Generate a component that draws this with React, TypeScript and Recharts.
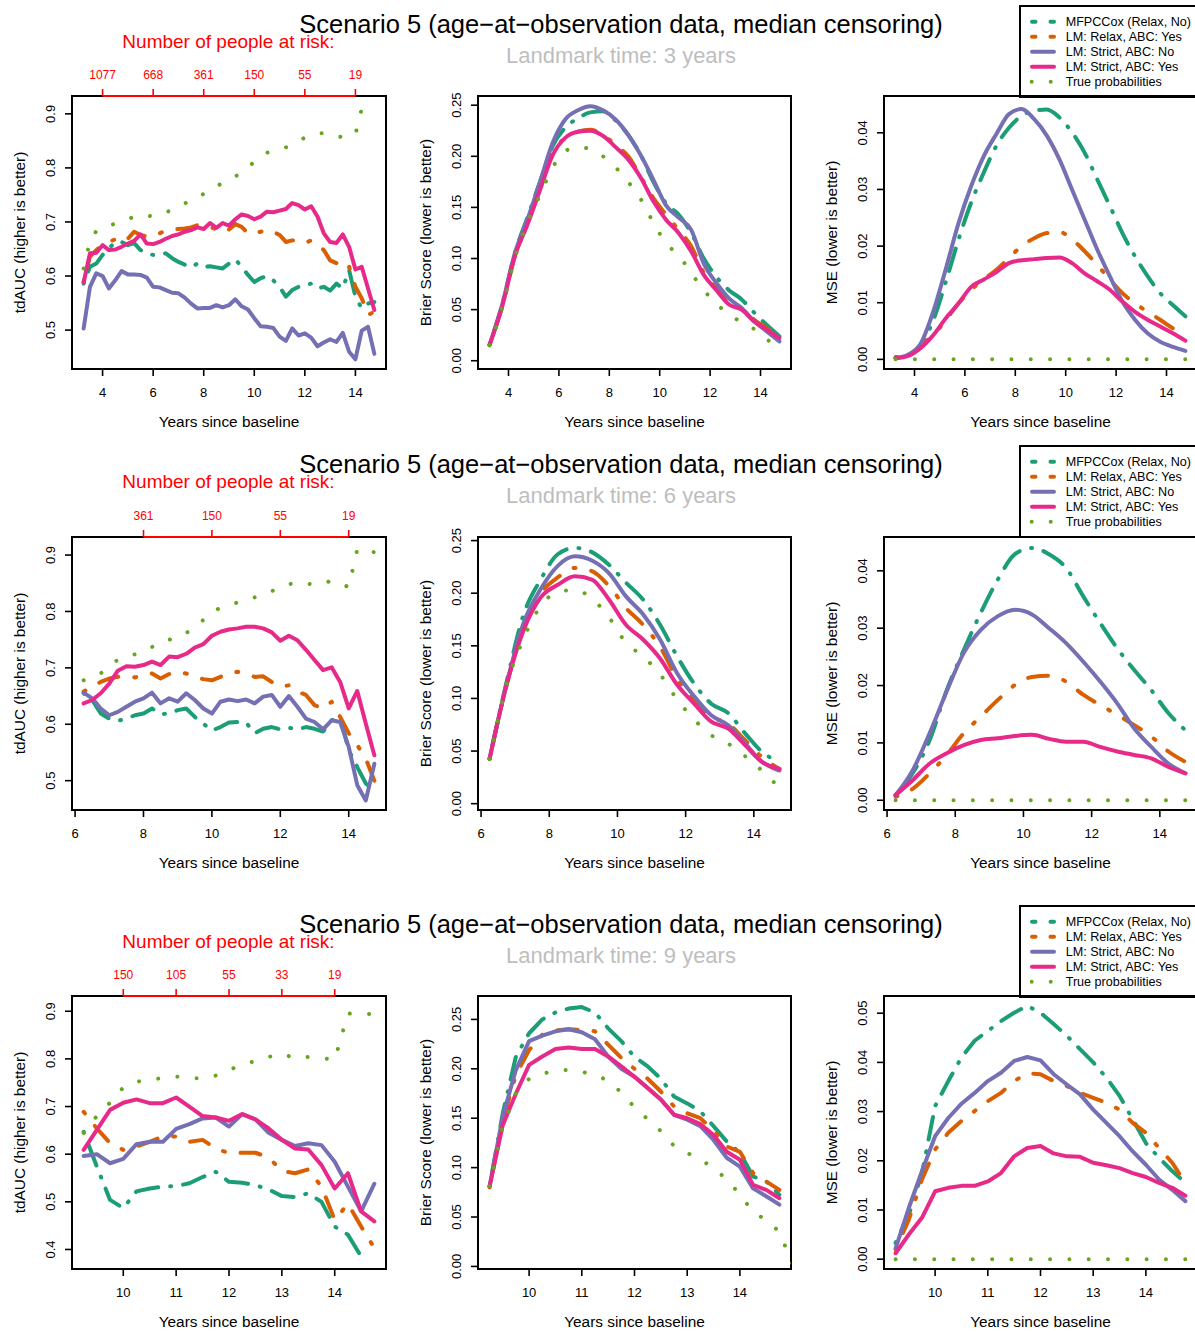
import React from 'react';
import { LineChart, Line, XAxis, YAxis, ReferenceArea, ReferenceLine } from 'recharts';

const FONT = '"Liberation Sans", Arial, Helvetica, sans-serif';

// ---- x grids ----
const xAuc3 = [3.25, 3.5, 3.75, 4, 4.25, 4.5, 4.75, 5, 5.25, 5.5, 5.75, 6, 6.25, 6.5, 6.75, 7, 7.25, 7.5, 7.75, 8, 8.25, 8.5, 8.75, 9, 9.25, 9.5, 9.75, 10, 10.25, 10.5, 10.75, 11, 11.25, 11.5, 11.75, 12, 12.25, 12.5, 12.75, 13, 13.25, 13.5, 13.75, 14, 14.25, 14.5, 14.75];
const xSmooth3 = [3.25, 3.75, 4.25, 4.75, 5.25, 5.75, 6.25, 6.75, 7.25, 7.75, 8.25, 8.75, 9.25, 9.75, 10.25, 10.75, 11.25, 11.75, 12.25, 12.75, 13.25, 13.75, 14.25, 14.75];
const xAuc6 = [6.25, 6.5, 6.75, 7, 7.25, 7.5, 7.75, 8, 8.25, 8.5, 8.75, 9, 9.25, 9.5, 9.75, 10, 10.25, 10.5, 10.75, 11, 11.25, 11.5, 11.75, 12, 12.25, 12.5, 12.75, 13, 13.25, 13.5, 13.75, 14, 14.25, 14.5, 14.75];
const xSmooth6 = [6.25, 6.75, 7.25, 7.75, 8.25, 8.75, 9.25, 9.75, 10.25, 10.75, 11.25, 11.75, 12.25, 12.75, 13.25, 13.75, 14.25, 14.75];
const x9 = [9.25, 9.5, 9.75, 10, 10.25, 10.5, 10.75, 11, 11.25, 11.5, 11.75, 12, 12.25, 12.5, 12.75, 13, 13.25, 13.5, 13.75, 14, 14.25, 14.5, 14.75];
const x9Brier = [9.25, 9.5, 9.75, 10, 10.25, 10.5, 10.75, 11, 11.25, 11.5, 11.75, 12, 12.25, 12.5, 12.75, 13, 13.25, 13.5, 13.75, 14, 14.25, 14.5, 14.75, 15];

// ---- landmark 3 ----
const auc3Mfpc = [0.586, 0.617, 0.623, 0.639, 0.651, 0.663, 0.663, 0.657, 0.661, 0.648, 0.642, 0.639, 0.641, 0.642, 0.633, 0.626, 0.621, 0.616, 0.623, 0.617, 0.618, 0.616, 0.614, 0.623, 0.631, 0.617, 0.602, 0.589, 0.596, 0.6, 0.592, 0.58, 0.562, 0.574, 0.58, 0.583, 0.586, 0.577, 0.58, 0.573, 0.586, 0.577, 0.611, 0.562, 0.54, 0.549, 0.552];
const auc3Relax = [0.589, 0.636, 0.648, 0.657, 0.663, 0.668, 0.663, 0.669, 0.682, 0.676, 0.673, 0.674, 0.679, 0.684, 0.686, 0.687, 0.688, 0.69, 0.694, 0.691, 0.691, 0.686, 0.691, 0.686, 0.696, 0.691, 0.679, 0.679, 0.682, 0.685, 0.682, 0.676, 0.663, 0.666, 0.665, 0.661, 0.666, 0.657, 0.648, 0.629, 0.624, 0.629, 0.617, 0.58, 0.559, 0.528, 0.534];
const auc3StrictNo = [0.503, 0.58, 0.605, 0.6, 0.577, 0.592, 0.609, 0.603, 0.603, 0.602, 0.597, 0.58, 0.579, 0.574, 0.569, 0.568, 0.56, 0.549, 0.54, 0.541, 0.541, 0.546, 0.542, 0.546, 0.557, 0.544, 0.538, 0.522, 0.507, 0.506, 0.504, 0.488, 0.48, 0.503, 0.49, 0.494, 0.486, 0.47, 0.477, 0.483, 0.478, 0.495, 0.46, 0.446, 0.499, 0.506, 0.456];
const auc3StrictYes = [0.588, 0.642, 0.643, 0.657, 0.648, 0.649, 0.654, 0.66, 0.665, 0.677, 0.66, 0.659, 0.663, 0.669, 0.674, 0.677, 0.682, 0.685, 0.69, 0.687, 0.698, 0.689, 0.698, 0.693, 0.705, 0.714, 0.711, 0.705, 0.71, 0.719, 0.718, 0.721, 0.724, 0.735, 0.731, 0.723, 0.729, 0.71, 0.679, 0.663, 0.661, 0.677, 0.654, 0.612, 0.617, 0.577, 0.537];
const auc3True = [0.614, 0.665, 0.683, 0.688, 0.693, 0.697, 0.701, 0.705, 0.71, 0.713, 0.712, 0.71, 0.714, 0.718, 0.722, 0.727, 0.734, 0.741, 0.746, 0.752, 0.759, 0.766, 0.772, 0.778, 0.784, 0.792, 0.802, 0.811, 0.82, 0.828, 0.832, 0.835, 0.838, 0.843, 0.85, 0.856, 0.86, 0.864, 0.864, 0.86, 0.857, 0.858, 0.861, 0.862, 0.91, 0.909, 0.907];

const brier3Mfpc = [0.0156, 0.055, 0.105, 0.14, 0.175, 0.21, 0.228, 0.237, 0.243, 0.244, 0.235, 0.221, 0.201, 0.175, 0.154, 0.143, 0.125, 0.1, 0.082, 0.069, 0.06, 0.047, 0.035, 0.024];
const brier3Relax = [0.0156, 0.053, 0.102, 0.135, 0.169, 0.203, 0.218, 0.224, 0.226, 0.221, 0.211, 0.2, 0.18, 0.159, 0.143, 0.128, 0.112, 0.086, 0.071, 0.056, 0.0515, 0.04, 0.032, 0.022];
const brier3StrictNo = [0.0156, 0.055, 0.105, 0.138, 0.175, 0.213, 0.236, 0.245, 0.249, 0.245, 0.236, 0.221, 0.201, 0.177, 0.152, 0.14, 0.128, 0.095, 0.076, 0.061, 0.0515, 0.0385, 0.0287, 0.0189];
const brier3StrictYes = [0.0156, 0.053, 0.102, 0.133, 0.167, 0.201, 0.218, 0.224, 0.225, 0.22, 0.209, 0.197, 0.179, 0.156, 0.138, 0.125, 0.107, 0.084, 0.069, 0.055, 0.05, 0.0385, 0.0303, 0.022];
const brier3True = [0.015, 0.0515, 0.1, 0.135, 0.162, 0.189, 0.205, 0.209, 0.207, 0.2, 0.189, 0.175, 0.158, 0.135, 0.115, 0.103, 0.086, 0.069, 0.056, 0.045, 0.038, 0.031, 0.021, 0.012];

const mse3Mfpc = [0.0002, 0.0008, 0.0025, 0.007, 0.0138, 0.0212, 0.0277, 0.033, 0.0377, 0.0409, 0.043, 0.0439, 0.0441, 0.0427, 0.0401, 0.0365, 0.0318, 0.0271, 0.0223, 0.0182, 0.0147, 0.0117, 0.0096, 0.0076];
const mse3Relax = [0.0004, 0.0008, 0.0025, 0.0043, 0.007, 0.0099, 0.0123, 0.0141, 0.0158, 0.0179, 0.02, 0.0214, 0.0223, 0.0225, 0.0212, 0.0191, 0.0167, 0.0141, 0.0117, 0.0099, 0.0084, 0.007, 0.0055, 0.0043];
const mse3StrictNo = [0.0002, 0.0008, 0.0028, 0.0085, 0.0161, 0.0241, 0.0306, 0.0359, 0.0398, 0.0433, 0.0442, 0.0424, 0.0395, 0.0353, 0.03, 0.0247, 0.0194, 0.0147, 0.0102, 0.007, 0.0046, 0.0031, 0.0022, 0.0015];
const mse3StrictYes = [0.0002, 0.0006, 0.002, 0.0043, 0.0073, 0.0099, 0.0128, 0.0141, 0.0154, 0.017, 0.0175, 0.0177, 0.0179, 0.018, 0.017, 0.0152, 0.0138, 0.0123, 0.0102, 0.0084, 0.007, 0.0058, 0.0046, 0.0033];
const mse3True = [0, 0, 0, 0, 0, 0, 0, 0, 0, 0, 0, 0, 0, 0, 0, 0, 0, 0, 0, 0, 0, 0, 0, 0];

// ---- landmark 6 ----
const auc6Mfpc = [0.655, 0.643, 0.619, 0.61, 0.606, 0.61, 0.616, 0.619, 0.628, 0.618, 0.619, 0.625, 0.628, 0.613, 0.601, 0.589, 0.595, 0.603, 0.604, 0.603, 0.584, 0.592, 0.595, 0.591, 0.594, 0.591, 0.595, 0.592, 0.587, 0.607, 0.613, 0.554, 0.524, 0.495, 0.483];
const auc6Relax = [0.658, 0.667, 0.675, 0.681, 0.684, 0.685, 0.683, 0.687, 0.69, 0.681, 0.689, 0.693, 0.69, 0.684, 0.68, 0.678, 0.684, 0.69, 0.693, 0.69, 0.684, 0.685, 0.675, 0.667, 0.669, 0.658, 0.652, 0.634, 0.628, 0.64, 0.613, 0.584, 0.563, 0.539, 0.5];
const auc6StrictNo = [0.656, 0.646, 0.628, 0.616, 0.622, 0.631, 0.64, 0.646, 0.656, 0.637, 0.646, 0.64, 0.655, 0.643, 0.628, 0.619, 0.64, 0.644, 0.641, 0.644, 0.637, 0.649, 0.652, 0.631, 0.65, 0.631, 0.61, 0.604, 0.591, 0.607, 0.604, 0.56, 0.492, 0.465, 0.53];
const auc6StrictYes = [0.637, 0.643, 0.655, 0.672, 0.695, 0.703, 0.702, 0.705, 0.711, 0.705, 0.72, 0.719, 0.725, 0.736, 0.742, 0.757, 0.764, 0.768, 0.77, 0.773, 0.773, 0.77, 0.763, 0.748, 0.757, 0.749, 0.732, 0.714, 0.696, 0.701, 0.675, 0.628, 0.659, 0.601, 0.545];
const auc6True = [0.678, 0.684, 0.69, 0.705, 0.714, 0.719, 0.724, 0.73, 0.737, 0.746, 0.75, 0.753, 0.762, 0.771, 0.785, 0.8, 0.806, 0.811, 0.816, 0.821, 0.825, 0.829, 0.836, 0.843, 0.848, 0.852, 0.85, 0.847, 0.849, 0.855, 0.85, 0.843, 0.91, 0.907, 0.905];

const brier6Mfpc = [0.0427, 0.116, 0.18, 0.213, 0.237, 0.243, 0.239, 0.227, 0.21, 0.194, 0.17, 0.14, 0.114, 0.095, 0.086, 0.0666, 0.049, 0.0395];
const brier6Relax = [0.0427, 0.113, 0.168, 0.2, 0.215, 0.224, 0.221, 0.207, 0.186, 0.17, 0.149, 0.119, 0.098, 0.0825, 0.076, 0.06, 0.044, 0.033];
const brier6StrictNo = [0.0427, 0.114, 0.172, 0.204, 0.226, 0.235, 0.231, 0.219, 0.197, 0.18, 0.156, 0.124, 0.102, 0.084, 0.0745, 0.057, 0.0395, 0.0315];
const brier6StrictYes = [0.0427, 0.113, 0.165, 0.196, 0.208, 0.216, 0.213, 0.194, 0.17, 0.156, 0.138, 0.113, 0.095, 0.078, 0.0713, 0.0554, 0.0395, 0.033];
const brier6True = [0.0424, 0.113, 0.157, 0.188, 0.201, 0.203, 0.195, 0.177, 0.153, 0.14, 0.123, 0.099, 0.08, 0.065, 0.057, 0.045, 0.031, 0.015];

const mse6Mfpc = [0.0009, 0.0047, 0.0105, 0.0192, 0.0262, 0.0327, 0.0385, 0.0429, 0.044, 0.0429, 0.0405, 0.0356, 0.0309, 0.0265, 0.0227, 0.0192, 0.0152, 0.0122];
const mse6Relax = [0.0006, 0.002, 0.0047, 0.0079, 0.0117, 0.0146, 0.0175, 0.0201, 0.0215, 0.0217, 0.0207, 0.0184, 0.0166, 0.0149, 0.0131, 0.0111, 0.0085, 0.0067];
const mse6StrictNo = [0.0009, 0.0052, 0.0117, 0.019, 0.0257, 0.0297, 0.0321, 0.0332, 0.0324, 0.03, 0.0274, 0.0242, 0.0207, 0.0169, 0.0125, 0.0093, 0.0064, 0.0047];
const mse6StrictYes = [0.0009, 0.0035, 0.0064, 0.0082, 0.0096, 0.0105, 0.0108, 0.0112, 0.0114, 0.0107, 0.0102, 0.0102, 0.0093, 0.0085, 0.0079, 0.0073, 0.0058, 0.0047];
const mse6True = [0, 0, 0, 0, 0, 0, 0, 0, 0, 0, 0, 0, 0, 0, 0, 0, 0, 0];

// ---- landmark 9 ----
const auc9Mfpc = [0.647, 0.574, 0.504, 0.487, 0.522, 0.528, 0.532, 0.533, 0.539, 0.552, 0.563, 0.542, 0.54, 0.535, 0.526, 0.512, 0.51, 0.518, 0.5, 0.448, 0.431, 0.385, null];
const auc9Relax = [0.689, 0.654, 0.623, 0.609, 0.616, 0.626, 0.637, 0.637, 0.626, 0.63, 0.612, 0.602, 0.603, 0.603, 0.593, 0.565, 0.56, 0.568, 0.532, 0.462, 0.496, 0.448, 0.403];
const auc9StrictNo = [0.596, 0.6, 0.581, 0.59, 0.621, 0.626, 0.626, 0.653, 0.663, 0.675, 0.677, 0.658, 0.684, 0.673, 0.645, 0.63, 0.617, 0.623, 0.619, 0.584, 0.532, 0.48, 0.538];
const auc9StrictYes = [0.609, 0.651, 0.693, 0.708, 0.715, 0.707, 0.707, 0.719, 0.7, 0.68, 0.677, 0.67, 0.684, 0.673, 0.654, 0.63, 0.612, 0.61, 0.577, 0.528, 0.56, 0.48, 0.459];
const auc9True = [0.645, 0.68, 0.708, 0.74, 0.752, 0.756, 0.76, 0.763, 0.76, 0.759, 0.765, 0.777, 0.787, 0.796, 0.804, 0.811, 0.801, 0.804, 0.802, 0.798, 0.895, 0.896, 0.893];

const brier9Mfpc = [0.081, 0.155, 0.2125, 0.236, 0.25, 0.257, 0.261, 0.2625, 0.257, 0.241, 0.228, 0.212, 0.2025, 0.19, 0.172, 0.165, 0.157, 0.142, 0.1265, 0.115, 0.091, 0.086, 0.0725];
const brier9Relax = [0.08, 0.148, 0.194, 0.219, 0.2345, 0.239, 0.24, 0.2395, 0.238, 0.2245, 0.211, 0.2, 0.19, 0.177, 0.162, 0.155, 0.15, 0.138, 0.1215, 0.116, 0.0945, 0.086, 0.0775];
const brier9StrictNo = [0.081, 0.152, 0.199, 0.228, 0.2335, 0.238, 0.24, 0.237, 0.23, 0.2125, 0.2, 0.192, 0.1805, 0.169, 0.1535, 0.1485, 0.142, 0.128, 0.11, 0.101, 0.079, 0.071, 0.0625];
const brier9StrictYes = [0.081, 0.143, 0.175, 0.204, 0.2125, 0.22, 0.2215, 0.22, 0.22, 0.2125, 0.2025, 0.192, 0.1805, 0.169, 0.1535, 0.15, 0.144, 0.133, 0.116, 0.108, 0.0825, 0.0775, 0.069];
const brier9True = [0.081, 0.142, 0.175, 0.19, 0.195, 0.198, 0.199, 0.197, 0.194, 0.188, 0.176, 0.161, 0.149, 0.137, 0.122, 0.115, 0.108, 0.1, 0.088, 0.073, 0.055, 0.047, 0.035, 0.002];

const mse9Mfpc = [0.0033, 0.009, 0.0175, 0.0311, 0.0362, 0.041, 0.0444, 0.0464, 0.0484, 0.0501, 0.0515, 0.0501, 0.0478, 0.0454, 0.0427, 0.04, 0.0369, 0.0332, 0.0284, 0.0236, 0.0206, 0.0179, 0.0155];
const mse9Relax = [0.002, 0.008, 0.0162, 0.0223, 0.0257, 0.0281, 0.0301, 0.0321, 0.0338, 0.0362, 0.0378, 0.0376, 0.0362, 0.0352, 0.0338, 0.0328, 0.0318, 0.0304, 0.0277, 0.0257, 0.0226, 0.0196, 0.0155];
const mse9StrictNo = [0.0022, 0.0104, 0.0179, 0.025, 0.0287, 0.0316, 0.0338, 0.0362, 0.0379, 0.0403, 0.0411, 0.0404, 0.0376, 0.0355, 0.0335, 0.0304, 0.0277, 0.025, 0.0219, 0.0192, 0.0162, 0.0141, 0.0118];
const mse9StrictYes = [0.0012, 0.005, 0.0084, 0.0138, 0.0145, 0.0149, 0.0149, 0.0158, 0.0175, 0.0209, 0.0226, 0.023, 0.0215, 0.0209, 0.0208, 0.0196, 0.0191, 0.0185, 0.0175, 0.0167, 0.0155, 0.0145, 0.0129];
const mse9True = [0, 0, 0, 0, 0, 0, 0, 0, 0, 0, 0, 0, 0, 0, 0, 0, 0, 0, 0, 0, 0, 0, 0];

// ---- people at risk (top axis) ----
const riskTicks3 = [4, 6, 8, 10, 12, 14];
const riskLabels3 = ['1077', '668', '361', '150', '55', '19'];
const riskTicks6 = [8, 10, 12, 14];
const riskLabels6 = ['361', '150', '55', '19'];
const riskTicks9 = [10, 11, 12, 13, 14];
const riskLabels9 = ['150', '105', '55', '33', '19'];

const landmarks = [3, 6, 9];

const SERIES = [
  { key: 'mfpc', name: 'MFPCCox (Relax, No)', color: '#1B9E77', dash: '1 12 23 12' },
  { key: 'relax', name: 'LM: Relax, ABC: Yes', color: '#D95F02', dash: '2 16 20 16' },
  { key: 'strictNo', name: 'LM: Strict, ABC: No', color: '#7570B3', dash: undefined },
  { key: 'strictYes', name: 'LM: Strict, ABC: Yes', color: '#E7298A', dash: undefined },
  { key: 'truth', name: 'True probabilities', color: '#66A61E', dash: '0.01 19.3' },
];

const BOX_LEFT = [72, 478, 884];
const BOX_W = [314, 313, 313];
const BOX_TOP = [96, 537, 996];
const BOX_H = 273;
const TEXT_OFF = [0, 440, 900];
const PAD_L = 60;
const PAD_T = 40;
const PAD_B = 40;
const PAD_R = 12;

type Arr = (number | null)[];

function rows(xs: number[], s: Arr[]) {
  return xs.map((x, i) => ({
    x,
    mfpc: s[0][i] ?? null,
    relax: s[1][i] ?? null,
    strictNo: s[2][i] ?? null,
    strictYes: s[3][i] ?? null,
    truth: s[4][i] ?? null,
  }));
}

function YTick(props: any) {
  const { x, y, payload, digits } = props;
  return (
    <text x={x} y={y} transform={`rotate(-90 ${x} ${y})`} textAnchor="middle" fontSize={13} fill="#000" fontFamily={FONT}>
      {Number(payload.value).toFixed(digits)}
    </text>
  );
}

type PanelDef = {
  row: number;
  col: number;
  xs: number[];
  series: Arr[];
  xDomain: [number, number];
  xTicks: number[];
  yDomain: [number, number];
  yTicks: number[];
  digits: number;
  curve: 'linear' | 'monotone';
  ylabel: string;
  risk?: { ticks: number[]; labels: string[] };
};

function Panel({ p }: { p: PanelDef }) {
  const bl = BOX_LEFT[p.col];
  const bw = BOX_W[p.col];
  const bt = BOX_TOP[p.row];
  const W = PAD_L + bw + PAD_R;
  const H = PAD_T + BOX_H + PAD_B;
  const data = rows(p.xs, p.series);
  const risk = p.risk;
  return (
    <div style={{ position: 'absolute', left: bl - PAD_L, top: bt - PAD_T }}>
      <LineChart width={W} height={H} data={data} margin={{ top: risk ? 0 : PAD_T, right: PAD_R, bottom: 0, left: 0 }}>
        <XAxis
          xAxisId="b"
          dataKey="x"
          type="number"
          domain={p.xDomain}
          ticks={p.xTicks}
          allowDataOverflow
          interval={0}
          height={PAD_B}
          axisLine={false}
          tickSize={7}
          tickMargin={12}
          tickLine={{ stroke: '#000', strokeWidth: 1.6 }}
          tick={{ fontSize: 13, fill: '#000', fontFamily: FONT }}
        />
        {risk && (
          <XAxis
            xAxisId="t"
            orientation="top"
            dataKey="x"
            type="number"
            domain={p.xDomain}
            ticks={risk.ticks}
            allowDataOverflow
            interval={0}
            height={PAD_T}
            axisLine={false}
            tickSize={7}
            tickMargin={10}
            tickLine={{ stroke: '#FF0000', strokeWidth: 1.6 }}
            tick={{ fontSize: 12, fill: '#FF0000', fontFamily: FONT }}
            tickFormatter={(v: number) => risk.labels[risk.ticks.indexOf(v)]}
          />
        )}
        <YAxis
          yAxisId="l"
          type="number"
          domain={p.yDomain}
          ticks={p.yTicks}
          allowDataOverflow
          interval={0}
          width={PAD_L}
          axisLine={false}
          tickSize={7}
          tickMargin={10}
          tickLine={{ stroke: '#000', strokeWidth: 1.6 }}
          tick={(t: any) => <YTick {...t} digits={p.digits} />}
        />
        <ReferenceArea
          xAxisId="b"
          yAxisId="l"
          x1={p.xDomain[0]}
          x2={p.xDomain[1]}
          y1={p.yDomain[0]}
          y2={p.yDomain[1]}
          fill="none"
          fillOpacity={0}
          stroke="#000"
          strokeWidth={2}
          ifOverflow="visible"
        />
        {SERIES.map((s) => (
          <Line
            key={s.key}
            xAxisId="b"
            yAxisId="l"
            type={p.curve}
            dataKey={s.key}
            stroke={s.color}
            strokeWidth={4}
            strokeDasharray={s.dash}
            strokeLinecap="round"
            strokeLinejoin="round"
            dot={false}
            activeDot={false}
            isAnimationActive={false}
          />
        ))}
        {risk && (
          <ReferenceLine
            xAxisId="b"
            yAxisId="l"
            segment={[
              { x: risk.ticks[0], y: p.yDomain[1] },
              { x: risk.ticks[risk.ticks.length - 1], y: p.yDomain[1] },
            ]}
            stroke="#FF0000"
            strokeWidth={2}
            ifOverflow="visible"
          />
        )}
      </LineChart>
    </div>
  );
}

const AUC_LABEL = 'tdAUC (higher is better)';
const BRIER_LABEL = 'Brier Score (lower is better)';
const MSE_LABEL = 'MSE (lower is better)';

const panels: PanelDef[] = [
  { row: 0, col: 0, xs: xAuc3, series: [auc3Mfpc, auc3Relax, auc3StrictNo, auc3StrictYes, auc3True], xDomain: [2.79, 15.21], xTicks: [4, 6, 8, 10, 12, 14], yDomain: [0.428, 0.933], yTicks: [0.5, 0.6, 0.7, 0.8, 0.9], digits: 1, curve: 'linear', ylabel: AUC_LABEL, risk: { ticks: riskTicks3, labels: riskLabels3 } },
  { row: 0, col: 1, xs: xSmooth3, series: [brier3Mfpc, brier3Relax, brier3StrictNo, brier3StrictYes, brier3True], xDomain: [2.79, 15.21], xTicks: [4, 6, 8, 10, 12, 14], yDomain: [-0.0081, 0.259], yTicks: [0, 0.05, 0.1, 0.15, 0.2, 0.25], digits: 2, curve: 'monotone', ylabel: BRIER_LABEL },
  { row: 0, col: 2, xs: xSmooth3, series: [mse3Mfpc, mse3Relax, mse3StrictNo, mse3StrictYes, mse3True], xDomain: [2.79, 15.21], xTicks: [4, 6, 8, 10, 12, 14], yDomain: [-0.0017, 0.0465], yTicks: [0, 0.01, 0.02, 0.03, 0.04], digits: 2, curve: 'monotone', ylabel: MSE_LABEL },
  { row: 1, col: 0, xs: xAuc6, series: [auc6Mfpc, auc6Relax, auc6StrictNo, auc6StrictYes, auc6True], xDomain: [5.91, 15.09], xTicks: [6, 8, 10, 12, 14], yDomain: [0.448, 0.932], yTicks: [0.5, 0.6, 0.7, 0.8, 0.9], digits: 1, curve: 'linear', ylabel: AUC_LABEL, risk: { ticks: riskTicks6, labels: riskLabels6 } },
  { row: 1, col: 1, xs: xSmooth6, series: [brier6Mfpc, brier6Relax, brier6StrictNo, brier6StrictYes, brier6True], xDomain: [5.91, 15.09], xTicks: [6, 8, 10, 12, 14], yDomain: [-0.006, 0.2534], yTicks: [0, 0.05, 0.1, 0.15, 0.2, 0.25], digits: 2, curve: 'monotone', ylabel: BRIER_LABEL },
  { row: 1, col: 2, xs: xSmooth6, series: [mse6Mfpc, mse6Relax, mse6StrictNo, mse6StrictYes, mse6True], xDomain: [5.91, 15.09], xTicks: [6, 8, 10, 12, 14], yDomain: [-0.0017, 0.0459], yTicks: [0, 0.01, 0.02, 0.03, 0.04], digits: 2, curve: 'monotone', ylabel: MSE_LABEL },
  { row: 2, col: 0, xs: x9, series: [auc9Mfpc, auc9Relax, auc9StrictNo, auc9StrictYes, auc9True], xDomain: [9.03, 14.97], xTicks: [10, 11, 12, 13, 14], yDomain: [0.359, 0.932], yTicks: [0.4, 0.5, 0.6, 0.7, 0.8, 0.9], digits: 1, curve: 'linear', ylabel: AUC_LABEL, risk: { ticks: riskTicks9, labels: riskLabels9 } },
  { row: 2, col: 1, xs: x9Brier, series: [brier9Mfpc, brier9Relax, brier9StrictNo, brier9StrictYes, brier9True], xDomain: [9.03, 14.97], xTicks: [10, 11, 12, 13, 14], yDomain: [-0.0026, 0.2737], yTicks: [0, 0.05, 0.1, 0.15, 0.2, 0.25], digits: 2, curve: 'linear', ylabel: BRIER_LABEL },
  { row: 2, col: 2, xs: x9, series: [mse9Mfpc, mse9Relax, mse9StrictNo, mse9StrictYes, mse9True], xDomain: [9.03, 14.97], xTicks: [10, 11, 12, 13, 14], yDomain: [-0.002, 0.0535], yTicks: [0, 0.01, 0.02, 0.03, 0.04, 0.05], digits: 2, curve: 'linear', ylabel: MSE_LABEL },
];

function Legend({ off }: { off: number }) {
  const ys = [21.7, 36.7, 51.7, 66.7, 81.7];
  return (
    <g>
      <rect x={1020} y={6 + off} width={200} height={91} fill="none" stroke="#000" strokeWidth={2} />
      {SERIES.map((s, i) => {
        const y = ys[i] + off;
        let sample;
        if (s.key === 'truth') {
          sample = <line x1={1031.7} x2={1051} y1={y} y2={y} stroke={s.color} strokeWidth={4} strokeLinecap="round" strokeDasharray="0.01 19" />;
        } else if (s.dash) {
          sample = <line x1={1032} x2={1054} y1={y} y2={y} stroke={s.color} strokeWidth={4} strokeLinecap="round" strokeDasharray="3.5 15" />;
        } else {
          sample = <line x1={1032} x2={1054} y1={y} y2={y} stroke={s.color} strokeWidth={4} strokeLinecap="round" />;
        }
        return (
          <g key={s.key}>
            {sample}
            <text x={1065.7} y={y + 4.5} fontSize={12.6} fill="#000" fontFamily={FONT}>
              {s.name}
            </text>
          </g>
        );
      })}
    </g>
  );
}

export default function App() {
  return (
    <div style={{ position: 'absolute', left: 0, top: 0, width: 1195, height: 1332, overflow: 'hidden', background: '#fff' }}>
      {panels.map((p, i) => (
        <Panel key={i} p={p} />
      ))}
      <svg width={1195} height={1332} style={{ position: 'absolute', left: 0, top: 0, pointerEvents: 'none' }}>
        {TEXT_OFF.map((off, r) => (
          <g key={r}>
            <text x={621} y={33 + off} textAnchor="middle" fontSize={25.5} fill="#000" fontFamily={FONT}>
              Scenario 5 (age−at−observation data, median censoring)
            </text>
            <text x={621} y={63 + off} textAnchor="middle" fontSize={22} fill="#BEBEBE" fontFamily={FONT}>
              {`Landmark time: ${landmarks[r]} years`}
            </text>
            <text x={228.5} y={48 + off} textAnchor="middle" fontSize={19} fill="#FF0000" fontFamily={FONT}>
              Number of people at risk:
            </text>
            <Legend off={off} />
          </g>
        ))}
        {panels.map((p, i) => {
          const bl = BOX_LEFT[p.col];
          const bw = BOX_W[p.col];
          const bt = BOX_TOP[p.row];
          const cy = bt + BOX_H / 2;
          const lx = bl - 47;
          return (
            <g key={i}>
              <text x={bl + bw / 2} y={bt + BOX_H + 58} textAnchor="middle" fontSize={15.4} fill="#000" fontFamily={FONT}>
                Years since baseline
              </text>
              <text x={lx} y={cy} transform={`rotate(-90 ${lx} ${cy})`} textAnchor="middle" fontSize={15.4} fill="#000" fontFamily={FONT}>
                {p.ylabel}
              </text>
            </g>
          );
        })}
      </svg>
    </div>
  );
}
